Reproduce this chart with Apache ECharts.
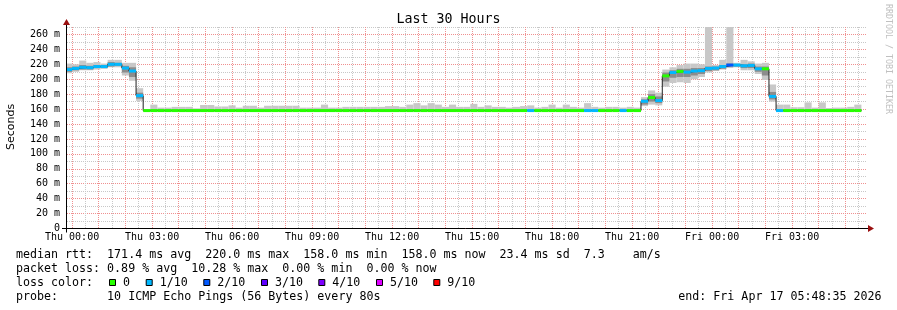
<!DOCTYPE html>
<html><head><meta charset="utf-8">
<script src="https://cdn.jsdelivr.net/npm/echarts@6/dist/echarts.min.js"></script>
<style>html,body{margin:0;padding:0;background:#fff}#c{width:897px;height:310px}</style>
</head><body><div id="c"></div>
<script>
// ---------------- DATA ----------------
// consolidated RRD steps of 16 minutes; first step starts Wed 23:44 (minutes relative to Thu 00:00)
const STEP = 16;
const FIRST_STEP = -16;
const T_START = -(11 + 25 / 60);          // Wed 23:48:35
const T_END = 29 * 60 + 48 + 35 / 60;     // Fri 05:48:35

// median rtt (ms) per step
const median = [
  213, 214.5, 216, 215.5, 217, 217, 220, 220, 215, 211, 178,
  158, 158, 158, 158, 158, 158, 158, 158, 158, 158,
  158, 158, 158, 158, 158, 158, 158, 158, 158, 158,
  158, 158, 158, 158, 158, 158, 158, 158, 158, 158,
  158, 158, 158, 158, 158, 158, 158, 158, 158, 158,
  158, 158, 158, 158, 158, 158, 158, 158, 158, 158,
  158, 158, 158, 158, 158, 158, 158, 158, 158, 158,
  158, 158, 158, 158, 158, 158, 158, 158, 158, 158,
  170.5, 175.5, 171.5, 204.5, 209, 210.5, 209.5, 211, 211.5, 214.5,
  215, 217, 219, 219, 218, 218.5, 214, 214, 177,
  158, 158, 158, 158, 158, 158, 158, 158, 158, 158, 158, 158
];
// lost pings (of 10) per step
const lossPings = [
  1, 1, 1, 1, 1, 1, 1, 1, 1, 1, 1,
  0, 0, 0, 0, 0, 0, 0, 0, 0, 0,
  0, 0, 0, 0, 0, 0, 0, 0, 0, 0,
  0, 0, 0, 0, 0, 0, 0, 0, 0, 0,
  0, 0, 0, 0, 0, 0, 0, 0, 0, 0,
  0, 0, 0, 0, 0, 0, 0, 0, 0, 0,
  0, 0, 0, 0, 1, 0, 0, 0, 0, 0,
  0, 0, 1, 1, 0, 0, 0, 1, 0, 0,
  1, 0, 1, 0, 1, 0, 1, 1, 1, 1,
  1, 1, 2, 1, 1, 1, 1, 0, 1,
  1, 0, 0, 0, 0, 0, 0, 0, 0, 0, 0, 0
];
// smoke: outer range (min / max ping)
const smokeLo = [
  208, 210, 212, 212, 213, 214, 216, 216, 205, 198, 171,
  157, 157, 157, 157, 157, 157, 157, 157, 157, 157,
  157, 157, 157, 157, 157, 157, 157, 157, 157, 157,
  157, 157, 157, 157, 157, 157, 157, 157, 157, 157,
  157, 157, 157, 157, 157, 157, 157, 157, 157, 157,
  157, 157, 157, 157, 157, 157, 157, 157, 157, 157,
  157, 157, 157, 157, 157, 157, 157, 157, 157, 157,
  157, 157, 157, 157, 157, 157, 157, 157, 157, 157,
  164, 166, 165, 190, 195, 196, 195, 200, 203, 209,
  211, 213, 215, 216, 212, 212, 207, 199, 170,
  157, 157, 157, 157, 157, 157, 157, 157, 157, 157, 157, 157
];
const smokeHi = [
  221, 220, 225, 222, 223, 221, 226, 226, 222, 222, 188,
  160, 166, 162, 162, 163, 163, 163, 161, 165.5, 165.5,
  163.5, 163.5, 165, 162, 164.5, 164.5, 162, 164.5, 164.5, 164.5,
  164.5, 164.5, 162, 162, 162, 166, 162, 162, 163, 163,
  163, 163, 163, 163, 164, 164, 163, 166, 168, 165,
  168, 166, 163, 166, 163, 163, 167, 163, 165, 163,
  163, 162, 163, 164, 165, 162, 163, 166, 162, 166,
  163, 162, 168, 163, 162, 163, 163, 162, 163, 162,
  176, 185, 182, 213, 216, 219, 221, 221, 220, 280,
  219, 226, 280, 222, 226, 224, 221, 222, 193,
  166, 166, 162.5, 162.5, 169, 162, 169, 161.5, 162, 162, 163, 166
];
// smoke: inner (denser) range
const coreLo = [
  210, 212, 213, 213, 215, 215, 217, 218, 209, 203, 174,
  157.5, 157.5, 157.5, 157.5, 157.5, 157.5, 157.5, 157.5, 157.5, 157.5,
  157.5, 157.5, 157.5, 157.5, 157.5, 157.5, 157.5, 157.5, 157.5, 157.5,
  157.5, 157.5, 157.5, 157.5, 157.5, 157.5, 157.5, 157.5, 157.5, 157.5,
  157.5, 157.5, 157.5, 157.5, 157.5, 157.5, 157.5, 157.5, 157.5, 157.5,
  157.5, 157.5, 157.5, 157.5, 157.5, 157.5, 157.5, 157.5, 157.5, 157.5,
  157.5, 157.5, 157.5, 157.5, 157.5, 157.5, 157.5, 157.5, 157.5, 157.5,
  157.5, 157.5, 157.5, 157.5, 157.5, 157.5, 157.5, 157.5, 157.5, 157.5,
  166, 170, 168, 197, 202, 203, 203, 205, 207, 211,
  212, 214, 217, 217, 215, 215, 210, 205, 173,
  157.5, 157.5, 157.5, 157.5, 157.5, 157.5, 157.5, 157.5, 157.5, 157.5, 157.5, 157.5
];
const coreHi = [
  216, 217, 219, 218, 219, 219, 223, 222, 218, 216, 182,
  159.5, 159.5, 159.5, 159.5, 159.5, 159.5, 159.5, 159.5, 159.5, 159.5,
  159.5, 159.5, 159.5, 159.5, 159.5, 159.5, 159.5, 159.5, 159.5, 159.5,
  159.5, 159.5, 159.5, 159.5, 159.5, 159.5, 159.5, 159.5, 159.5, 159.5,
  159.5, 159.5, 159.5, 159.5, 159.5, 159.5, 159.5, 159.5, 159.5, 159.5,
  159.5, 159.5, 159.5, 159.5, 159.5, 159.5, 159.5, 159.5, 159.5, 159.5,
  159.5, 159.5, 159.5, 159.5, 159.5, 159.5, 159.5, 159.5, 159.5, 159.5,
  159.5, 159.5, 159.5, 159.5, 159.5, 159.5, 159.5, 159.5, 159.5, 159.5,
  173, 180, 177, 209, 212, 214, 214, 215, 215, 217,
  217, 219, 221, 220, 220, 221, 217, 217, 183,
  159.5, 159.5, 159.5, 159.5, 159.5, 159.5, 159.5, 159.5, 159.5, 159.5, 159.5, 159.5
];

const xTickLabels = ['Thu 00:00', 'Thu 03:00', 'Thu 06:00', 'Thu 09:00', 'Thu 12:00',
  'Thu 15:00', 'Thu 18:00', 'Thu 21:00', 'Fri 00:00', 'Fri 03:00'];
const yTickLabels = ['0', '20 m', '40 m', '60 m', '80 m', '100 m', '120 m', '140 m',
  '160 m', '180 m', '200 m', '220 m', '240 m', '260 m'];

const lossLegendLabels = ['0', '1/10', '2/10', '3/10', '4/10', '5/10', '9/10'];
const lossLegendColors = ['#26ff00', '#00b8ff', '#0059ff', '#5e00ff', '#7e00ff', '#dd00ff', '#ff0000'];
const lossLegendLimit = [0, 1, 2, 3, 4, 8, 10]; // upper bound of lost pings for each colour

const statLines = [
  'median rtt:  171.4 ms avg  220.0 ms max  158.0 ms min  158.0 ms now  23.4 ms sd  7.3    am/s',
  'packet loss: 0.89 % avg  10.28 % max  0.00 % min  0.00 % now',
  'loss color:',
  'probe:       10 ICMP Echo Pings (56 Bytes) every 80s'
];
const endText = 'end: Fri Apr 17 05:48:35 2026';
const titleText = 'Last 30 Hours';
const yName = 'Seconds';
const watermark = 'RRDTOOL / TOBI OETIKER';

// ---------------- LAYOUT ----------------
const Y_MAX = 270;
const PLOT_LEFT = 67, PLOT_W = 800, PLOT_TOP = 27, PLOT_H = 201.5;
const pxPerMin = PLOT_W / (T_END - T_START);
const pxPerMs = PLOT_H / Y_MAX;
const MONO = "'DejaVu Sans Mono', monospace";
const GRID_MINOR = '#c8c8c8', GRID_MAJOR = '#f09090';

function vGrid(tMin, tMax) {
  return { left: PLOT_LEFT + (tMin - T_START) * pxPerMin, width: (tMax - tMin) * pxPerMin,
           top: PLOT_TOP, height: PLOT_H };
}
function hGrid(vMin, vMax) {
  return { left: PLOT_LEFT, width: PLOT_W, top: PLOT_TOP + (Y_MAX - vMax) * pxPerMs,
           height: (vMax - vMin) * pxPerMs };
}
const stepStart = median.map((_, i) => FIRST_STEP + i * STEP);

function lossColor(n) {
  for (let i = 0; i < lossLegendLimit.length; i++) if (n <= lossLegendLimit[i]) return lossLegendColors[i];
  return lossLegendColors[lossLegendColors.length - 1];
}

function clipRect(params, x0, x1, yTop, yBot) {
  const cs = params.coordSys;
  return echarts.graphic.clipRectByRect(
    { x: x0, y: yTop, width: x1 - x0, height: yBot - yTop },
    { x: cs.x, y: cs.y, width: cs.width, height: cs.height });
}
function smokeRender(fill) {
  return function (params, api) {
    const t = api.value(0);
    const a = api.coord([t, api.value(2)]);
    const b = api.coord([t + STEP, api.value(1)]);
    const shape = clipRect(params, a[0], b[0], a[1], b[1]);
    return shape && { type: 'rect', shape: shape, style: { fill: fill } };
  };
}
const BAND_HALF = 2.0; // ms
function bandRender(params, api) {
  const t = api.value(0), m = api.value(1);
  const a = api.coord([t, m + BAND_HALF]);
  const b = api.coord([t + STEP, m - BAND_HALF]);
  const shape = clipRect(params, a[0], b[0], a[1], b[1]);
  return shape && { type: 'rect', shape: shape, style: { fill: lossColor(api.value(2)) } };
}

const hiddenX = (gi) => ({ type: 'value', gridIndex: gi, show: false, min: 0, max: 1 });
const hiddenY = (gi) => ({ type: 'value', gridIndex: gi, show: false, min: 0, max: 1 });
const noAxisParts = { axisLine: { show: false }, axisTick: { show: false }, axisLabel: { show: false } };

// grid line ranges (minutes / ms)
const V_MINOR = [30, 1770], V_MAJOR = [0, 1740], V_LABEL = [0, 1620];
const H_MINOR = [10, 270], H_MAJOR = [0, 260];

const option = {
  animation: false,
  backgroundColor: '#ffffff',
  grid: [
    { left: PLOT_LEFT, width: PLOT_W, top: PLOT_TOP, height: PLOT_H },   // 0 data
    vGrid(V_MINOR[0], V_MINOR[1]),                                        // 1 minor vertical (half hours)
    vGrid(V_MAJOR[0], V_MAJOR[1]),                                        // 2 major vertical (hours)
    hGrid(H_MINOR[0], H_MINOR[1]),                                        // 3 minor horizontal
    hGrid(H_MAJOR[0], H_MAJOR[1]),                                        // 4 major horizontal + labels
    vGrid(V_LABEL[0], V_LABEL[1])                                         // 5 x labels
  ],
  xAxis: [
    { type: 'value', gridIndex: 0, min: T_START, max: T_END, show: false },
    Object.assign({ type: 'value', gridIndex: 1, min: V_MINOR[0], max: V_MINOR[1], interval: 60,
      splitLine: { show: true, lineStyle: { color: GRID_MINOR, width: 1, type: [1, 1] } } }, noAxisParts),
    Object.assign({ type: 'value', gridIndex: 2, min: V_MAJOR[0], max: V_MAJOR[1], interval: 60,
      splitLine: { show: true, lineStyle: { color: GRID_MAJOR, width: 1, type: [1, 1] } } }, noAxisParts),
    hiddenX(3), hiddenX(4),
    { type: 'value', gridIndex: 5, min: V_LABEL[0], max: V_LABEL[1], interval: 180,
      axisLine: { show: false }, axisTick: { show: false }, splitLine: { show: false },
      axisLabel: { show: true, margin: 4, color: '#000', fontFamily: MONO, fontSize: 10,
        showMinLabel: true, showMaxLabel: true,
        formatter: (v) => xTickLabels[Math.round(v / 180)] } }
  ],
  yAxis: [
    { type: 'value', gridIndex: 0, min: 0, max: Y_MAX, show: false },
    hiddenY(1), hiddenY(2),
    Object.assign({ type: 'value', gridIndex: 3, min: H_MINOR[0], max: H_MINOR[1], interval: 20,
      splitLine: { show: true, lineStyle: { color: GRID_MINOR, width: 1, type: [1, 1] } } }, noAxisParts),
    { type: 'value', gridIndex: 4, min: H_MAJOR[0], max: H_MAJOR[1], interval: 20,
      axisLine: { show: false }, axisTick: { show: false },
      axisLabel: { show: true, margin: 7, color: '#000', fontFamily: MONO, fontSize: 10,
        showMinLabel: true, showMaxLabel: true,
        formatter: (v) => yTickLabels[Math.round(v / 20)] },
      splitLine: { show: true, lineStyle: { color: GRID_MAJOR, width: 1, type: [1, 1] } } },
    hiddenY(5)
  ],
  series: [
    { type: 'custom', name: 'smoke', xAxisIndex: 0, yAxisIndex: 0, z: 2,
      data: stepStart.map((t, i) => [t, smokeLo[i], smokeHi[i]]),
      renderItem: smokeRender('#c8c8c8'), silent: true },
    { type: 'custom', name: 'smoke core', xAxisIndex: 0, yAxisIndex: 0, z: 3,
      data: stepStart.map((t, i) => [t, coreLo[i], coreHi[i]]),
      renderItem: smokeRender('#8c8c8c'), silent: true },
    { type: 'line', name: 'median', xAxisIndex: 0, yAxisIndex: 0, step: 'end', z: 4,
      symbol: 'none', clip: true, silent: true,
      lineStyle: { color: '#202020', width: 1 },
      data: stepStart.map((t, i) => [t, median[i]])
        .concat([[stepStart[stepStart.length - 1] + STEP, median[median.length - 1]]]) },
    { type: 'custom', name: 'loss', xAxisIndex: 0, yAxisIndex: 0, z: 5,
      data: stepStart.map((t, i) => [t, median[i], lossPings[i]]),
      renderItem: bandRender, silent: true }
  ],
  graphic: { elements: buildGraphics() }
};

function buildGraphics() {
  const els = [];
  const axisY = PLOT_TOP + PLOT_H;       // 228.5
  const axisX = PLOT_LEFT - 0.5;         // 66.5
  els.push({ type: 'line', z: 100, shape: { x1: PLOT_LEFT - 5, y1: axisY, x2: PLOT_LEFT + PLOT_W + 2, y2: axisY },
             style: { stroke: '#000', lineWidth: 1 } });
  els.push({ type: 'line', z: 100, shape: { x1: axisX, y1: axisY + 4, x2: axisX, y2: PLOT_TOP - 4 },
             style: { stroke: '#000', lineWidth: 1 } });
  els.push({ type: 'polygon', z: 101, shape: { points: [[PLOT_LEFT + PLOT_W + 1, axisY - 3.5], [PLOT_LEFT + PLOT_W + 7, axisY], [PLOT_LEFT + PLOT_W + 1, axisY + 3.5]] },
             style: { fill: '#9a1010' } });
  els.push({ type: 'polygon', z: 101, shape: { points: [[axisX - 3.5, PLOT_TOP - 2], [axisX, PLOT_TOP - 8], [axisX + 3.5, PLOT_TOP - 2]] },
             style: { fill: '#9a1010' } });
  els.push({ type: 'text', z: 100, x: 448.5, y: 19.5,
             style: { text: titleText, fill: '#000', fontFamily: MONO, fontSize: 13.3, textAlign: 'center', textVerticalAlign: 'middle' } });
  els.push({ type: 'text', z: 100, x: 11, y: 127, rotation: Math.PI / 2,
             style: { text: yName, fill: '#000', fontFamily: "'DejaVu Sans', sans-serif", fontSize: 11, textAlign: 'center', textVerticalAlign: 'middle' } });
  els.push({ type: 'text', z: 100, x: 888, y: 59, rotation: -Math.PI / 2,
             style: { text: watermark, fill: '#c0c0c0', fontFamily: MONO, fontSize: 8.3, textAlign: 'center', textVerticalAlign: 'middle' } });
  const rowY = [254.5, 268.5, 282.5, 296.5];
  statLines.forEach((s, i) => {
    els.push({ type: 'text', z: 100, x: 16, y: rowY[i],
               style: { text: s, fill: '#000', fontFamily: MONO, fontSize: 11.65, textAlign: 'left', textVerticalAlign: 'middle' } });
  });
  els.push({ type: 'text', z: 100, x: 678.3, y: rowY[3],
             style: { text: endText, fill: '#000', fontFamily: MONO, fontSize: 11.65, textAlign: 'left', textVerticalAlign: 'middle' } });
  const sqX = [109, 145.7, 203.3, 261, 318.3, 376, 433.3];
  lossLegendLabels.forEach((lab, i) => {
    els.push({ type: 'rect', z: 100, shape: { x: sqX[i] + 0.5, y: rowY[2] - 3, width: 6, height: 6 },
               style: { fill: lossLegendColors[i], stroke: '#000', lineWidth: 1 } });
    els.push({ type: 'text', z: 100, x: sqX[i] + 14, y: rowY[2],
               style: { text: lab, fill: '#000', fontFamily: MONO, fontSize: 11.65, textAlign: 'left', textVerticalAlign: 'middle' } });
  });
  return els;
}

const chart = echarts.init(document.getElementById('c'), null, { renderer: 'canvas' });
chart.setOption(option);
</script>
</body></html>
